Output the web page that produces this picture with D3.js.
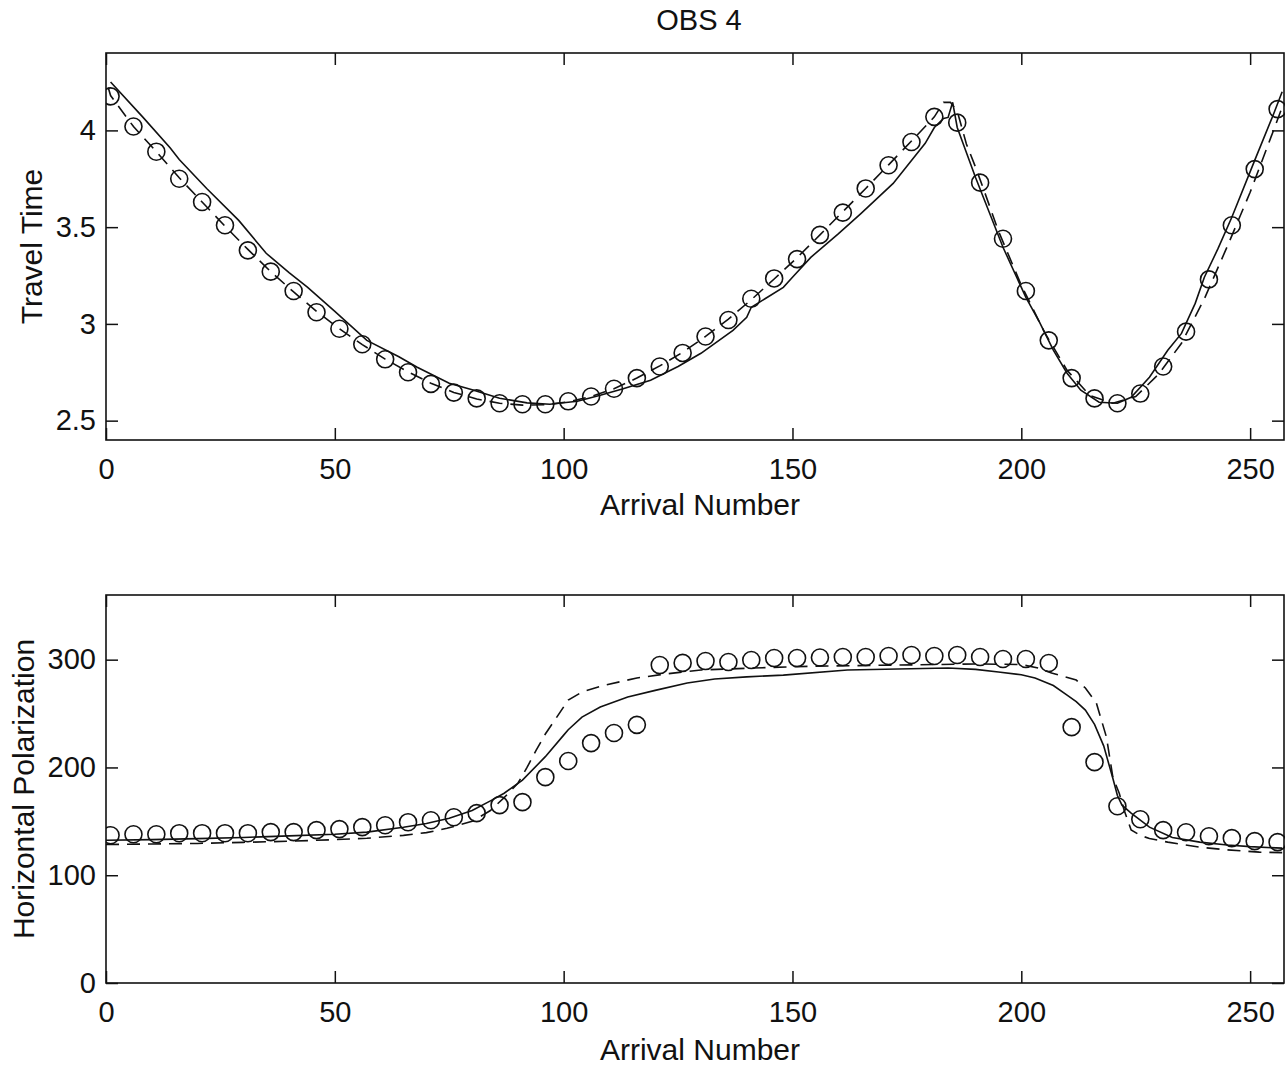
<!DOCTYPE html>
<html>
<head>
<meta charset="utf-8">
<script src="https://cdn.jsdelivr.net/npm/d3@7"></script>
<style>
  html, body { margin: 0; padding: 0; background: #fff; }
  svg { display: block; }
  text { font-family: "Liberation Sans", Arial, Helvetica, sans-serif; fill: #111; }
</style>
</head>
<body>
<svg id="chart" width="1285" height="1065"></svg>
<script>
// ---------------- DATA ----------------
const title = "OBS 4";
const xLabel = "Arrival Number";
const ttLabel = "Travel Time";
const hpLabel = "Horizontal Polarization";

const xTicks = [0, 50, 100, 150, 200, 250];
const ttTicks = [2.5, 3, 3.5, 4];
const ttTickLabels = ["2.5", "3", "3.5", "4"];
const hpTicks = [0, 100, 200, 300];
const hpTickLabels = ["0", "100", "200", "300"];

// observed arrivals (circles)
const obsArrivals = [1, 6, 11, 16, 21, 26, 31, 36, 41, 46, 51, 56, 61, 66, 71, 76, 81, 86, 91, 96,
  101, 106, 111, 116, 121, 126, 131, 136, 141, 146, 151, 156, 161, 166, 171, 176, 181, 186, 191, 196,
  201, 206, 211, 216, 221, 226, 231, 236, 241, 246, 251, 256];

const obsTravelTime = [4.176, 4.02, 3.89, 3.75, 3.63, 3.51, 3.38, 3.27, 3.17, 3.06,
  2.975, 2.895, 2.817, 2.75, 2.69, 2.645, 2.615, 2.59, 2.585, 2.585,
  2.60, 2.625, 2.665, 2.72, 2.78, 2.85, 2.935, 3.02, 3.13, 3.235,
  3.335, 3.46, 3.575, 3.70, 3.82, 3.94, 4.07, 4.04, 3.73, 3.44,
  3.17, 2.915, 2.72, 2.615, 2.59, 2.64, 2.78, 2.96, 3.23, 3.51,
  3.80, 4.11];

const obsHorizPol = [137.1, 138, 138, 139, 139, 139, 139, 140, 140, 141.8,
  142.8, 144.6, 146.4, 149.2, 151, 153.8, 157.6, 165, 167.8, 191,
  206, 222.6, 232, 239.5, 295, 297, 298.7, 297.8, 299.7, 301.5,
  301.5, 302, 302.5, 302.5, 303.4, 304.3, 303.4, 304.3, 302.5, 300.6,
  300.6, 296.9, 237.4, 204.9, 164, 151.9, 141.8, 139.9, 136.2, 134.4,
  131.6, 130.7];

// model curves (solid and dashed), [arrival, value]
const ttSolid = [[1,4.25],[8,4.07],[14,3.91],[16,3.85],[22,3.70],[29,3.535],[35,3.365],[40,3.265],
  [44,3.19],[50,3.065],[57,2.915],[64,2.83],[68,2.776],[75,2.693],[80,2.66],[86,2.616],[92,2.592],
  [97,2.585],[103,2.60],[108,2.631],[113,2.665],[119,2.709],[125,2.78],[130,2.848],[137,2.967],
  [140,3.034],[141,3.086],[144,3.13],[148,3.189],[150,3.241],[154,3.344],[160,3.465],[165,3.571],
  [172,3.726],[179,3.933],[181,4.015],[183,4.062],[184,4.067],[185,4.145],[186,4.015],[190,3.757],
  [196,3.396],[201,3.137],[204,3.008],[207,2.864],[210,2.745],[213,2.657],[217,2.595],[221,2.59],
  [224,2.621],[228,2.724],[232,2.864],[235,2.951],[238,3.106],[240,3.241],[243,3.39],[246,3.551],
  [251,3.845],[255,4.077],[257,4.2]];

const ttDashed = [[0.5,4.22],[1,4.18],[6,4.02],[11,3.89],[16,3.755],[21,3.63],[26,3.505],[31,3.385],
  [36,3.27],[41,3.165],[46,3.065],[51,2.975],[56,2.893],[61,2.818],[66,2.752],[71,2.693],[76,2.646],
  [81,2.612],[86,2.59],[91,2.58],[96,2.582],[101,2.597],[106,2.625],[111,2.665],[116,2.72],[121,2.783],
  [126,2.853],[131,2.935],[136,3.025],[141,3.125],[146,3.232],[151,3.342],[156,3.46],[161,3.58],
  [166,3.70],[171,3.822],[176,3.945],[181,4.07],[183,4.145],[184.5,4.145],[186,4.10],[188,3.93],
  [190,3.81],[192,3.68],[195,3.48],[200,3.20],[205,2.96],[210,2.76],[215,2.63],[220,2.59],[225,2.625],
  [230,2.74],[235,2.90],[240,3.13],[245,3.40],[250,3.68],[254,3.93],[257,4.12]];

const hpSolid = [[0,132.5],[10,133],[20,134],[30,135],[40,136.5],[50,138],[57,140],[65,144.5],[70,148],
  [75,152.9],[80,160],[84,169],[87,176.1],[91,188.2],[96,210],[100,230],[101,235],[104,246.7],[108,256],
  [114,265.3],[120,271.5],[127,278.3],[133,282],[140,284],[148,285.7],[162,290.4],[173,291.3],[184,292.2],
  [190,291],[195,288.5],[200,286],[203,282.9],[207,276],[210,267.1],[212,261],[214,253.2],[216,240],
  [218,220],[220,190],[221,174],[222,165],[224,157.6],[228,144.6],[233,135],[239,130.7],[245,128],
  [250,126.5],[257,125.1]];

const hpDashed = [[0,128.5],[10,129],[20,129.5],[30,130.5],[40,131.5],[50,133],[57,134.3],[65,137],
  [70,139.5],[74.5,143.5],[80,150],[84,160],[87,172],[90,185.4],[92,200],[94,216],[96,231],[98.5,246.7],
  [101,262.5],[104,270],[109,276.4],[116,283],[122,286.6],[130,290.4],[141,292.2],[155,294],[173,295],
  [190,296],[200,295.5],[204,292],[206.6,287.6],[212,281.1],[214,273.7],[216.4,259.8],[218.6,228.2],
  [220,191],[221.4,176],[222.5,160],[224,142],[226,137],[228,134],[232,130.7],[239,126],[245,123.5],
  [252,121.4],[257,121]];

// ---------------- LAYOUT ----------------
const svg = d3.select("#chart");
const X0 = 106, X1 = 1284;
const panels = [
  { top: 53, bottom: 440, domain: [2.4, 4.4], ticks: ttTicks, tickLabels: ttTickLabels, label: ttLabel, labelX: 42,
    obs: obsTravelTime, solid: ttSolid, dashed: ttDashed, xlabBase: 515 },
  { top: 595, bottom: 983, domain: [0, 360], ticks: hpTicks, tickLabels: hpTickLabels, label: hpLabel, labelX: 34,
    obs: obsHorizPol, solid: hpSolid, dashed: hpDashed, xlabBase: 1060 }
];

const x = d3.scaleLinear().domain([0, 257.4]).range([X0, X1]);

svg.append("text").attr("x", 699).attr("y", 30).attr("text-anchor", "middle")
  .attr("font-size", 29).text(title);

panels.forEach((p, i) => {
  const y = d3.scaleLinear().domain(p.domain).range([p.bottom, p.top]);
  const g = svg.append("g");

  const clipId = "clip" + i;
  svg.append("clipPath").attr("id", clipId).append("rect")
    .attr("x", X0).attr("y", p.top).attr("width", X1 - X0 + 2).attr("height", p.bottom - p.top);

  const axB = g.append("g").attr("transform", `translate(0,${p.bottom})`)
    .call(d3.axisBottom(x).tickValues(xTicks).tickSizeInner(-12).tickSizeOuter(0).tickPadding(18));
  axB.selectAll("text").attr("font-size", 29).attr("dy", "0.71em");
  const axT = g.append("g").attr("transform", `translate(0,${p.top})`)
    .call(d3.axisTop(x).tickValues(xTicks).tickSizeInner(-12).tickSizeOuter(0).tickFormat(""));
  const axL = g.append("g").attr("transform", `translate(${X0},0)`)
    .call(d3.axisLeft(y).tickValues(p.ticks).tickSizeInner(-12).tickSizeOuter(0).tickPadding(10)
      .tickFormat((d, k) => p.tickLabels[k]));
  axL.selectAll("text").attr("font-size", 29);
  const axR = g.append("g").attr("transform", `translate(${X1},0)`)
    .call(d3.axisRight(y).tickValues(p.ticks).tickSizeInner(-12).tickSizeOuter(0).tickFormat(""));
  [axB, axT, axL, axR].forEach(a => {
    a.select(".domain").remove();
    a.selectAll("line").attr("stroke", "#111").attr("stroke-width", 1.5);
    a.selectAll("text").attr("fill", "#111").style("font-family", '"Liberation Sans", Arial, sans-serif');
  });

  g.append("rect").attr("x", X0).attr("y", p.top).attr("width", X1 - X0).attr("height", p.bottom - p.top)
    .attr("fill", "none").attr("stroke", "#111").attr("stroke-width", 1.6);

  const line = d3.line().x(d => x(d[0])).y(d => y(d[1]));
  const plot = g.append("g").attr("clip-path", `url(#${clipId})`);
  plot.append("path").datum(p.solid).attr("d", line)
    .attr("fill", "none").attr("stroke", "#111").attr("stroke-width", 1.6);
  plot.append("path").datum(p.dashed).attr("d", line)
    .attr("fill", "none").attr("stroke", "#111").attr("stroke-width", 1.6).attr("stroke-dasharray", "13,8");
  plot.selectAll("circle").data(obsArrivals).join("circle")
    .attr("cx", d => x(d)).attr("cy", (d, k) => y(p.obs[k])).attr("r", 8.5)
    .attr("fill", "none").attr("stroke", "#111").attr("stroke-width", 1.6);

  svg.append("text").attr("x", 700).attr("y", p.xlabBase)
    .attr("text-anchor", "middle").attr("font-size", 30).text(xLabel);
  svg.append("text")
    .attr("transform", `translate(${p.labelX},${(p.top + p.bottom) / 2}) rotate(-90)`)
    .attr("text-anchor", "middle").attr("font-size", 30).text(p.label);
});
</script>
</body>
</html>
